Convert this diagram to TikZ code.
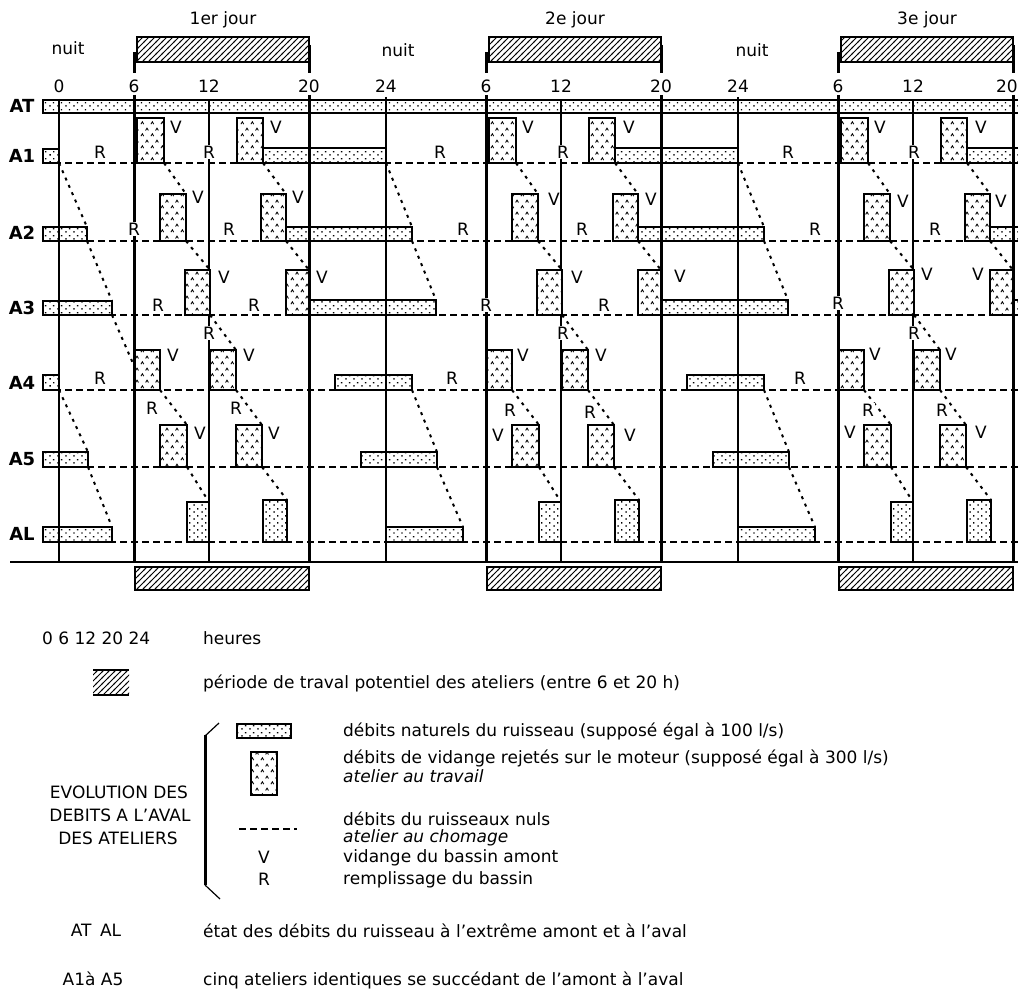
\documentclass[tikz,border=0pt]{standalone}
\usepackage{fontspec}
\setmainfont{DejaVu Sans}
\usetikzlibrary{patterns.meta}

% fill patterns of the chart
\tikzdeclarepattern{
  name=stipple, type=uncolored,
  bottom left={(0pt,0pt)}, top right={(8pt,7pt)},
  tile size={(8pt,7pt)},
  code={\fill (1.5pt,1.5pt) rectangle (3pt,3pt);
        \fill (5.5pt,5pt) rectangle (7pt,6.5pt);}
}
\tikzdeclarepattern{
  name=carets, type=uncolored,
  bottom left={(0pt,0pt)}, top right={(10pt,12pt)},
  tile size={(10pt,12pt)},
  code={\draw[line width=0.9pt] (1pt,2pt) -- (2.5pt,4.5pt) -- (4pt,2pt);
        \draw[line width=0.9pt] (6pt,8pt) -- (7.5pt,10.5pt) -- (9pt,8pt);}
}
\tikzdeclarepattern{
  name=hatch, type=uncolored,
  bottom left={(-1pt,-1pt)}, top right={(7pt,7pt)},
  tile size={(6pt,6pt)},
  code={\draw[line width=1pt] (-1pt,-1pt) -- (7pt,7pt);}
}

\begin{document}
\begin{tikzpicture}[
    x=1pt, y=-1pt,
    every node/.style={font=\fontsize{17}{20}\selectfont, inner sep=0pt},
    rowlabel/.style={font=\fontsize{18}{21}\selectfont\bfseries},
    rmark/.style={fill=white, inner sep=1pt},
    flow/.style={draw, line width=1.2pt, pattern=stipple},
    vidange/.style={draw, line width=1.2pt, preaction={fill=white}, pattern=carets},
    outflow/.style={draw, line width=1.2pt, preaction={fill=white}, pattern=stipple},
    worktime/.style={draw, line width=1.2pt, pattern=hatch},
    idle/.style={line width=1.6pt, dash pattern=on 7pt off 4pt},
    transit/.style={line width=2pt, dash pattern=on 3pt off 5pt},
    gridline/.style={line width=1.2pt},
    thickline/.style={line width=3pt}
  ]
  \useasboundingbox (0,0) rectangle (1018,990);

  % working periods, top and bottom
  \foreach \d/\jour in {0/1er jour, 1/2e jour, 2/3e jour} {
    \draw[worktime] (137+352*\d,37) rectangle (309+352*\d,62);
    \draw[worktime] (135+352*\d,567) rectangle (309+352*\d,590);
    \draw[thickline] (134+352*\d,52) -- (134+352*\d,73);
    \draw[thickline] (309+352*\d,45) -- (309+352*\d,73);
    \node (jour\d) at (223+352*\d,20) {\jour};
  }
  \node (nuit0) at (68,48) {nuit};
  \node (nuit1) at (398,50) {nuit};
  \node (nuit2) at (752,50) {nuit};

  % hours
  \node (h0) at (59,86) {0};
  \foreach \d in {0,1,2} {
    \node (h6-\d) at (134+352*\d,86) {6};
    \node (h12-\d) at (209+352*\d,86) {12};
  }
  \foreach \d in {0,1} {
    \node (h20-\d) at (309+352*\d,86) {20};
    \node (h24-\d) at (386+352*\d,86) {24};
  }
  \node[anchor=east] (h20-2) at (1018,86) {20};

  % time grid
  \draw[gridline] (59,99) -- (59,562);
  \foreach \d in {0,1,2} {
    \draw[gridline] (209+352*\d,100) -- (209+352*\d,562);
    \draw[gridline] (386+352*\d,97) -- (386+352*\d,562);
    \draw[thickline] (134+352*\d,95) -- (134+352*\d,562);
    \draw[thickline] (309+352*\d,95) -- (309+352*\d,562);
  }
  \draw[line width=1.5pt] (10,562) -- (1018,562);

  % rows
  \node[rowlabel] (AT) at (22,106) {AT};
  \node[rowlabel] (A1) at (22,156) {A1};
  \node[rowlabel] (A2) at (22,233) {A2};
  \node[rowlabel] (A3) at (22,308) {A3};
  \node[rowlabel] (A4) at (22,383) {A4};
  \node[rowlabel] (A5) at (22,459) {A5};
  \node[rowlabel] (AL) at (22,534) {AL};
  \draw[flow] (43,100) rectangle (1030,113);
  \foreach \y in {163,241,315,390,467,542}
    \draw[idle] (43,\y) -- (1018,\y);

  % first night
  \draw[flow] (43,149) rectangle (59,163);
  \draw[flow] (43,227) rectangle (87,241);
  \draw[flow] (43,301) rectangle (112,315);
  \draw[flow] (43,375) rectangle (59,390);
  \draw[flow] (43,452) rectangle (88,467);
  \draw[flow] (43,527) rectangle (112,542);
  \draw[transit] (59,163) -- (87,227) (87,241) -- (112,301) (112,315) -- (135,368);
  \draw[transit] (59,390) -- (88,452) (88,467) -- (112,527);

  % each day and the night after it
  \foreach \o in {0,352,704} {
    \draw[vidange] (\o+137,118) rectangle (\o+164,163);
    \draw[vidange] (\o+237,118) rectangle (\o+263,163);
    \draw[flow] (\o+263,148) rectangle (\o+386,163);
    \draw[vidange] (\o+160,194) rectangle (\o+186,241);
    \draw[vidange] (\o+261,194) rectangle (\o+286,241);
    \draw[flow] (\o+286,227) rectangle (\o+412,241);
    \draw[vidange] (\o+185,270) rectangle (\o+210,315);
    \draw[vidange] (\o+286,270) rectangle (\o+309,315);
    \draw[flow] (\o+309,300) rectangle (\o+436,315);
    \draw[vidange] (\o+135,350) rectangle (\o+160,390);
    \draw[vidange] (\o+210,350) rectangle (\o+236,390);
    \draw[flow] (\o+335,375) rectangle (\o+412,390);
    \draw[vidange] (\o+160,425) rectangle (\o+187,467);
    \draw[vidange] (\o+236,425) rectangle (\o+262,467);
    \draw[flow] (\o+361,452) rectangle (\o+437,467);
    \draw[outflow] (\o+187,502) rectangle (\o+209,542);
    \draw[outflow] (\o+263,500) rectangle (\o+287,542);
    \draw[flow] (\o+386,527) rectangle (\o+463,542);
    \draw[transit] (\o+164,163) -- (\o+186,194) (\o+263,163) -- (\o+286,194) (\o+386,163) -- (\o+412,227);
    \draw[transit] (\o+186,241) -- (\o+210,270) (\o+286,241) -- (\o+309,270) (\o+412,241) -- (\o+436,300);
    \draw[transit] (\o+210,315) -- (\o+236,350);
    \draw[transit] (\o+160,390) -- (\o+187,425) (\o+236,390) -- (\o+262,425) (\o+412,390) -- (\o+437,452);
    \draw[transit] (\o+187,467) -- (\o+209,502) (\o+262,467) -- (\o+287,500) (\o+437,467) -- (\o+463,527);
  }

  % V and R marks
  \foreach \x/\y [count=\i] in {100/152, 209/152, 440/152, 563/152, 788/152, 914/152,
      134/229, 229/229, 463/229, 582/229, 815/229, 935/229,
      158/305, 254/305, 486/305, 604/305, 838/303,
      100/378, 209/333, 452/378, 563/333, 800/378, 914/333,
      152/408, 236/408, 510/410, 590/412, 868/410, 942/410}
    \node[rmark] (R\i) at (\x,\y) {R};
  \foreach \x/\y [count=\i] in {176/127, 276/127, 528/127, 629/127, 880/127, 981/127,
      198/197, 298/197, 554/199, 651/199, 903/201, 1001/201,
      224/277, 322/277, 577/277, 680/276, 927/274, 978/274,
      173/355, 249/355, 523/355, 601/355, 875/354, 951/354,
      200/433, 274/433, 498/435, 630/435, 850/432, 981/432}
    \node (V\i) at (\x,\y) {V};

  % legend
  \node[anchor=west] (heures0) at (42,638) {0 6 12 20 24};
  \node[anchor=west] (heures) at (203,638) {heures};
  \fill[pattern=hatch] (93,670) rectangle (129,695);
  \draw[gridline] (93,670) -- (129,670) (93,695) -- (129,695);
  \node[anchor=west] (periode) at (203,683) {période de traval potentiel des ateliers (entre 6 et 20 h)};

  \draw[gridline] (219,723) -- (205,736);
  \draw[thickline] (205,735) -- (205,885);
  \draw[gridline] (205,885) -- (220,899);
  \node (evol1) at (119,792) {EVOLUTION DES};
  \node (evol2) at (120,815) {DEBITS A L'AVAL};
  \node (evol3) at (118,838) {DES ATELIERS};

  \draw[flow] (237,724) rectangle (291,738);
  \node[anchor=west] (naturel) at (343,731) {débits naturels du ruisseau (supposé égal à 100 l/s)};
  \draw[vidange] (251,752) rectangle (277,795);
  \node[anchor=west] (rejet) at (343,758) {débits de vidange rejetés sur le moteur (supposé égal à 300 l/s)};
  \node[anchor=west] (travail) at (343,776) {\itshape atelier au travail};
  \draw[idle] (239,829) -- (297,829);
  \node[anchor=west] (nuls) at (343,819) {débits du ruisseaux nuls};
  \node[anchor=west] (chomage) at (343,838) {\itshape atelier au chomage};
  \node (legV) at (264,857) {V};
  \node[anchor=west] (vidange) at (343,858) {vidange du bassin amont};
  \node (legR) at (264,879) {R};
  \node[anchor=west] (rempl) at (343,880) {remplissage du bassin};

  \node (legATAL) at (96,930) {AT\enspace AL};
  \node[anchor=west] (etat) at (203,931) {état des débits du ruisseau à l'extrême amont et à l'aval};
  \node (legA1A5) at (93,979) {A1à A5};
  \node[anchor=west] (cinq) at (203,980) {cinq ateliers identiques se succédant de l'amont à l'aval};
\end{tikzpicture}
\end{document}
